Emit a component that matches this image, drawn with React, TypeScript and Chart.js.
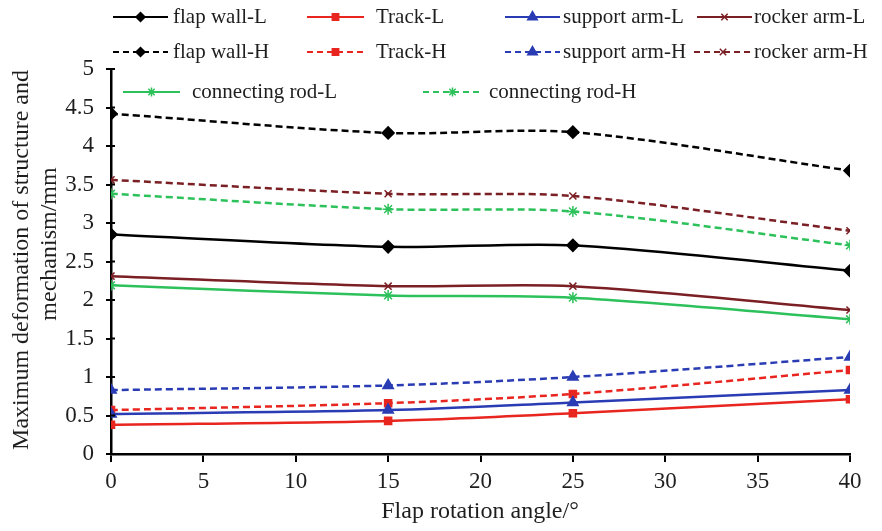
import React, { useEffect, useRef } from "react";
import { Chart, registerables } from "chart.js";
import * as helpers from "chart.js/helpers";

Chart.register(...registerables);

const angles = [0, 15, 25, 40];
const seriesNames = [
  "flap wall-L", "Track-L", "support arm-L", "rocker arm-L",
  "flap wall-H", "Track-H", "support arm-H", "rocker arm-H",
  "connecting rod-L", "connecting rod-H",
];
const flapWallL = [2.85, 2.69, 2.71, 2.38];
const trackL = [0.38, 0.43, 0.53, 0.71];
const supportArmL = [0.52, 0.57, 0.67, 0.83];
const rockerArmL = [2.31, 2.18, 2.18, 1.87];
const flapWallH = [4.42, 4.17, 4.18, 3.68];
const trackH = [0.57, 0.66, 0.78, 1.09];
const supportArmH = [0.83, 0.89, 1.0, 1.26];
const rockerArmH = [3.56, 3.38, 3.35, 2.9];
const connRodL = [2.19, 2.06, 2.03, 1.75];
const connRodH = [3.38, 3.18, 3.15, 2.71];
const xTitle = "Flap rotation angle/°";
const yTitle = ["Maximum deformation of structure and", "mechanism/mm"];

const FONT = "'Liberation Serif', 'Times New Roman', serif";
const TEXT = "#1e1e1e";
const BLACK = "#000000";
const RED = "#e8251f";
const BLUE = "#2a3cb4";
const MAROON = "#7a1f24";
const GREEN = "#2cc15a";

const seriesData = [flapWallL, trackL, supportArmL, rockerArmL, flapWallH, trackH, supportArmH, rockerArmH, connRodL, connRodH];
const seriesColors = [BLACK, RED, BLUE, MAROON, BLACK, RED, BLUE, MAROON, GREEN, GREEN];
const seriesPoint = ["rectRot", "rect", "triangle", "crossRot", "rectRot", "rect", "triangle", "crossRot", "star", "star"];
const seriesDashed = [false, false, false, false, true, true, true, true, false, true];

// legend layout: [lineStart, lineEnd, textX, y]
const legendPos = [
  [113, 168, 173, 17], [307, 364, 376, 17], [505, 560, 563, 17], [697, 752, 754, 17],
  [113, 168, 173, 52], [307, 364, 376, 52], [505, 560, 563, 52], [694, 752, 754, 52],
  [123, 180, 192, 92], [423, 482, 489, 92],
];

function pointRadius(style: string) {
  if (style === "rect") return 5;
  if (style === "crossRot") return 5;
  if (style === "star") return 5.5;
  return 6;
}
function legendRadius(style: string) {
  if (style === "rect") return 4.5;
  if (style === "triangle") return 5.5;
  if (style === "star") return 4.5;
  return 4.5;
}

export default function App() {
  const ref = useRef<HTMLCanvasElement | null>(null);
  useEffect(() => {
    document.body.style.margin = "0";
    const canvas = ref.current!;
    const datasets = seriesNames.map((name, i) => ({
      label: name,
      data: angles.map((a, j) => ({ x: a, y: seriesData[i][j] })),
      borderColor: seriesColors[i],
      backgroundColor: seriesColors[i],
      pointBackgroundColor: seriesColors[i],
      pointBorderColor: seriesColors[i],
      pointStyle: seriesPoint[i] as any,
      pointRadius: pointRadius(seriesPoint[i]),
      pointBorderWidth: 1.5,
      borderWidth: 2.5,
      borderDash: seriesDashed[i] ? [7, 4] : [],
      tension: 0.3,
      fill: false,
    }));

    const customDraw = {
      id: "customDraw",
      afterDraw(chart: any) {
        const ctx = chart.ctx as CanvasRenderingContext2D;
        ctx.save();
        // legend
        ctx.font = `21px ${FONT}`;
        ctx.textBaseline = "middle";
        ctx.textAlign = "left";
        seriesNames.forEach((name, i) => {
          const [x0, x1, tx, y] = legendPos[i];
          ctx.strokeStyle = seriesColors[i];
          ctx.fillStyle = seriesColors[i];
          ctx.lineWidth = 2.2;
          ctx.setLineDash(seriesDashed[i] ? [6, 4] : []);
          ctx.beginPath();
          ctx.moveTo(x0, y);
          ctx.lineTo(x1, y);
          ctx.stroke();
          ctx.setLineDash([]);
          ctx.lineWidth = 1.5;
          (helpers as any).drawPoint(ctx, { pointStyle: seriesPoint[i], radius: legendRadius(seriesPoint[i]), rotation: 0, borderWidth: 1.5 }, (x0 + x1) / 2, y);
          ctx.fillStyle = TEXT;
          ctx.fillText(name, tx, y);
        });
        // y tick marks crossing the axis
        const ys = chart.scales.y;
        const xa = chart.chartArea.left;
        ctx.strokeStyle = BLACK;
        ctx.lineWidth = 2;
        ys.ticks.forEach((t: any) => {
          const py = ys.getPixelForValue(t.value);
          ctx.beginPath();
          ctx.moveTo(xa, py);
          ctx.lineTo(xa + 4, py);
          ctx.stroke();
        });
        // axis titles
        ctx.fillStyle = TEXT;
        ctx.font = `24px ${FONT}`;
        ctx.textAlign = "center";
        ctx.fillText(xTitle, 480, 512);
        ctx.save();
        ctx.translate(22, 260);
        ctx.rotate(-Math.PI / 2);
        ctx.fillText(yTitle[0], 0, 0);
        ctx.restore();
        ctx.save();
        ctx.translate(50, 244);
        ctx.rotate(-Math.PI / 2);
        ctx.fillText(yTitle[1], 0, 0);
        ctx.restore();
        ctx.restore();
      },
    };

    const chart = new Chart(canvas, {
      type: "line",
      data: { datasets },
      options: {
        animation: false,
        responsive: false,
        devicePixelRatio: 1,
        layout: { padding: { top: 69, right: 32, left: 0, bottom: 0 } },
        plugins: { legend: { display: false }, tooltip: { enabled: false } },
        scales: {
          x: {
            type: "linear",
            min: 0,
            max: 40,
            ticks: { stepSize: 5, color: TEXT, font: { family: FONT, size: 23 }, padding: 6, maxRotation: 0 },
            grid: { drawOnChartArea: false, drawTicks: true, tickLength: 8, color: BLACK, lineWidth: 2 },
            border: { display: true, color: BLACK, width: 2.5 },
            afterFit: (s: any) => { s.height = 77; },
          },
          y: {
            min: 0,
            max: 5,
            ticks: {
              stepSize: 0.5,
              color: TEXT,
              font: { family: FONT, size: 23 },
              padding: 12,
              callback: (v: any) => String(Math.round(Number(v) * 10) / 10),
            },
            grid: { drawOnChartArea: false, drawTicks: true, tickLength: 5, color: BLACK, lineWidth: 2 },
            border: { display: true, color: BLACK, width: 2.5 },
            afterFit: (s: any) => { s.width = 111; },
          },
        },
      },
      plugins: [customDraw],
    } as any);
    return () => chart.destroy();
  }, []);
  return <canvas ref={ref} width={882} height={531} style={{ display: "block" }} />;
}
